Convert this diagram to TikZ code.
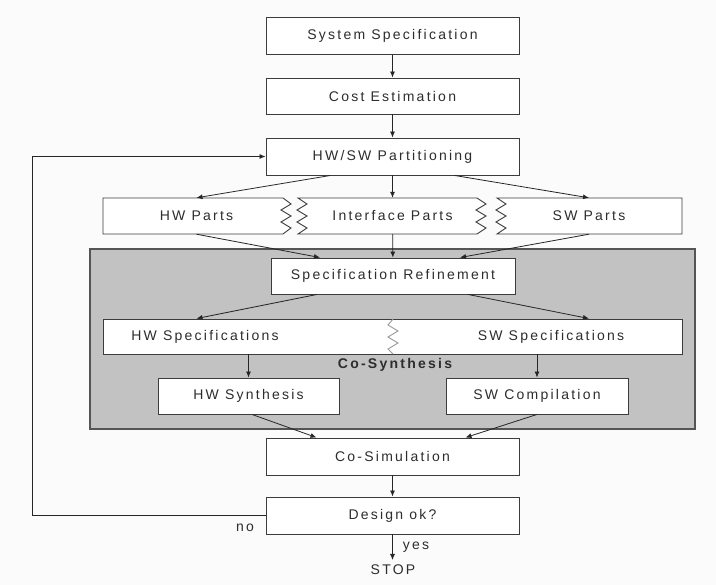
\documentclass[tikz,border=0pt]{standalone}
\usepackage{fontspec}
\setmainfont{Liberation Sans}[LetterSpace=16]
\usetikzlibrary{arrows.meta}
\definecolor{bgc}{HTML}{FBFBFB}
\definecolor{boxc}{HTML}{3C3C3C}
\definecolor{linec}{HTML}{262626}
\definecolor{txtc}{HTML}{2D2D2D}
\definecolor{grayfill}{HTML}{C2C2C2}
\definecolor{grayedge}{HTML}{555555}
\definecolor{zigc}{HTML}{9A9A9A}
\begin{document}
\begin{tikzpicture}[x=1pt,y=-1pt,
  box/.style={draw=boxc, fill=white, line width=0.9pt, minimum width=253pt,
    minimum height=37pt, inner sep=0pt, text=txtc, font=\fontsize{14}{16}\selectfont},
  ghost/.style={minimum width=187pt, minimum height=36pt, inner sep=0pt,
    text=txtc, font=\fontsize{14}{16}\selectfont},
  lbl/.style={inner sep=0pt, text=txtc, font=\fontsize{14}{16}\selectfont},
  jag/.style={draw=boxc, fill=white, line width=0.9pt, line join=miter},
  arr/.style={draw=linec, line width=0.8pt, -{Latex[length=6pt,width=5pt]}},
  region/.style={draw=grayedge, fill=grayfill, line width=1.2pt}]
\fill[bgc] (0,0) rectangle (716,585);
\useasboundingbox (0,0) rectangle (716,585);

% top chain
\node[box] (sys) at (392.5,36) {System Specification};
\node[box, minimum height=36pt] (cost) at (392.5,96) {Cost Estimation};
\node[box] (part) at (392.5,156.5) {HW/SW Partitioning};

% parts row outlines
\draw[jag] (283,198) -- (103,198) -- (103,234) -- (283,234)
  -- (291,228) -- (281,222) -- (291,216) -- (281,210) -- (291,204) -- cycle;
\draw[jag] (298,198) -- (477,198) -- (486,204) -- (476,210) -- (486,216)
  -- (476,222) -- (486,228) -- (477,234) -- (298,234) -- (307,228) -- (297,222)
  -- (307,216) -- (297,210) -- (307,204) -- cycle;
\draw[jag] (497,198) -- (682,198) -- (682,234) -- (497,234) -- (506,228)
  -- (496,222) -- (506,216) -- (496,210) -- (506,204) -- cycle;
\node[ghost] (hwp) at (196.5,216) {HW Parts};
\node[ghost, minimum width=179pt] (ifp) at (392.5,216) {Interface Parts};
\node[ghost] (swp) at (589,216) {SW Parts};

% co-synthesis region
\draw[region] (90,249) rectangle (695,429);
\node[box, minimum width=244pt, minimum height=36pt] (ref) at (393,276) {Specification Refinement};
\node[box, minimum width=579pt, minimum height=35pt] (specs) at (392.5,336.5) {};
\node[lbl] (hwspec) at (205,336.5) {HW Specifications};
\node[lbl] (swspec) at (551,336.5) {SW Specifications};
\draw[zigc, line width=0.9pt] (393,319) -- (388,325) -- (398,331) -- (388,337)
  -- (398,343) -- (388,349) -- (393,354);
\node[lbl, font=\fontsize{14}{16}\selectfont\bfseries] (cosyn) at (395,365) {Co-Synthesis};
\node[box, minimum width=181pt, minimum height=36pt] (hwsyn) at (248.5,396) {HW Synthesis};
\node[box, minimum width=182pt, minimum height=36pt] (swcomp) at (537,396) {SW Compilation};

% bottom chain
\node[box] (cosim) at (392.5,456.5) {Co-Simulation};
\node[box] (design) at (392.5,515.5) {Design ok?};
\coordinate (stopend) at (392.5,560);
\node[lbl] (stop) at (393,570) {STOP};
\node[lbl] (yes) at (416,547) {yes};
\node[lbl] (no) at (245,528) {no};
\coordinate (fbl) at (32,0);

% connectors
\draw[arr] (sys) -- (cost);
\draw[arr] (cost) -- (part);
\draw[arr] ([xshift=-62pt]part.south) -- (hwp.north);
\draw[arr] (part) -- (ifp);
\draw[arr] ([xshift=62pt]part.south) -- (swp.north);
\draw[arr] (hwp.south) -- ([xshift=-73pt]ref.north);
\draw[arr] (ifp) -- (ref);
\draw[arr] (swp.south) -- ([xshift=67pt]ref.north);
\draw[arr] ([xshift=-76pt]ref.south) -- (hwp |- specs.north);
\draw[arr] ([xshift=75pt]ref.south) -- (swp |- specs.north);
\draw[arr] (hwsyn |- specs.south) -- (hwsyn);
\draw[arr] (swcomp |- specs.south) -- (swcomp);
\draw[arr] ([xshift=3.5pt]hwsyn.south) -- ([xshift=-76pt]cosim.north);
\draw[arr] (swcomp.south) -- ([xshift=73pt]cosim.north);
\draw[arr] (cosim) -- (design);
\draw[arr] (design) -- (stopend);
\draw[arr] (design.west) -- (design.west -| fbl) |- (part.west);
\end{tikzpicture}
\end{document}
